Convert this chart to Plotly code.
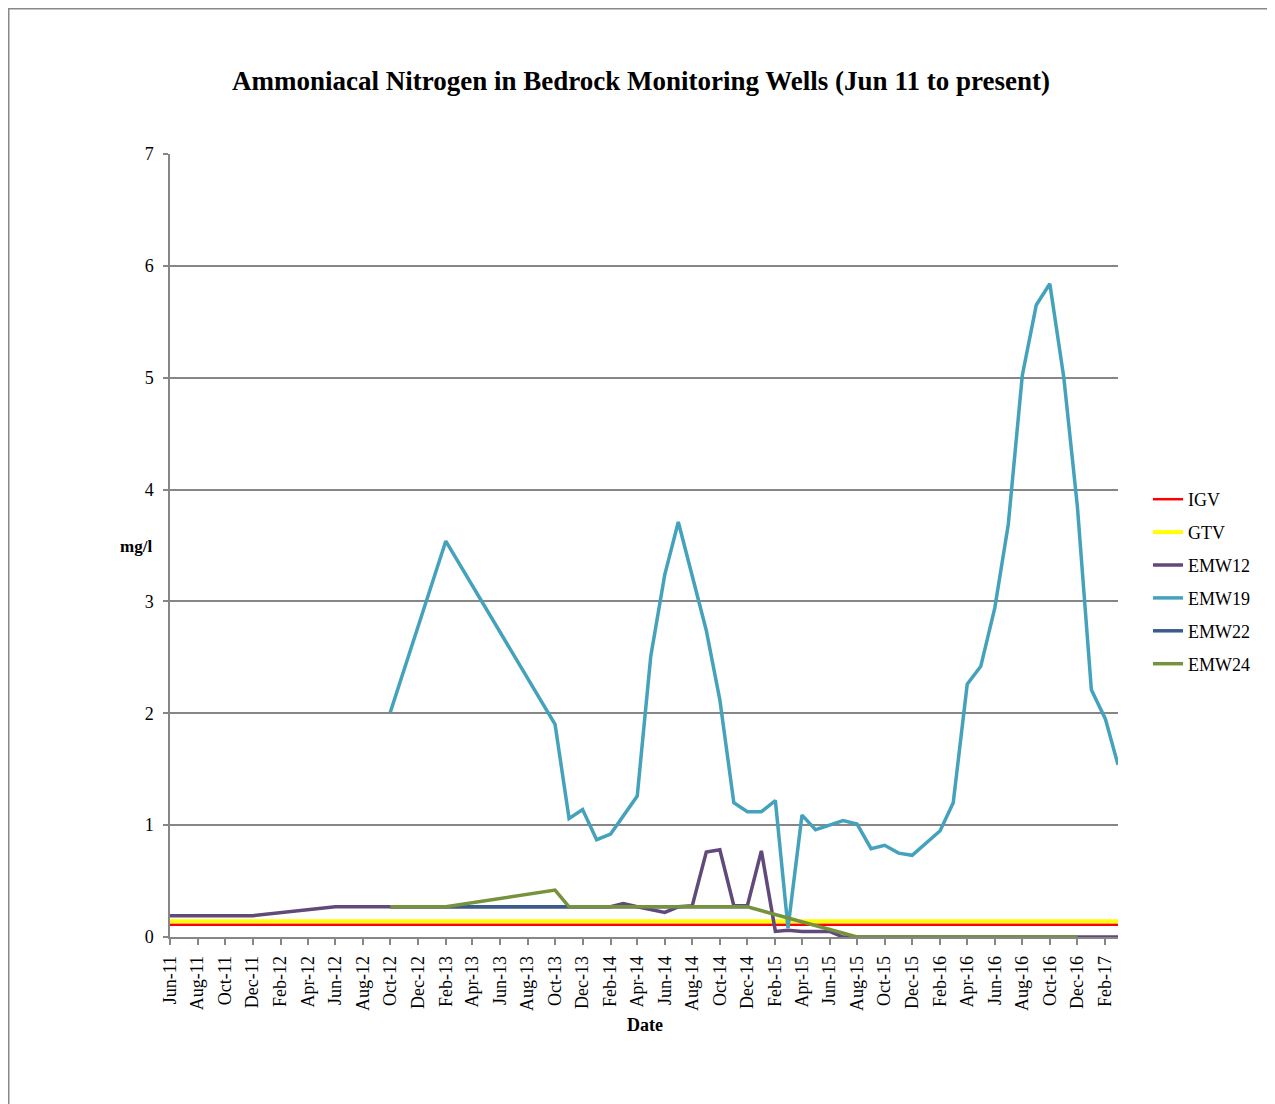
import plotly.graph_objects as go

# ---- data ----
full_range_dates = ["2011-06-01", "2017-03-01"]
igv_vals = [0.11, 0.11]
gtv_vals = [0.14, 0.14]

emw12_dates = ["2011-06-01", "2011-12-01", "2012-06-01", "2012-10-01", "2013-02-01", "2013-10-01",
               "2013-11-01", "2014-02-01", "2014-03-01", "2014-04-01", "2014-06-01", "2014-07-01",
               "2014-08-01", "2014-09-01", "2014-10-01", "2014-11-01", "2014-12-01", "2015-01-01",
               "2015-02-01", "2015-03-01", "2015-04-01", "2015-05-01", "2015-06-01", "2015-07-01",
               "2016-12-01", "2017-03-01"]
emw12_vals = [0.19, 0.19, 0.27, 0.27, 0.27, 0.27,
              0.27, 0.27, 0.30, 0.27, 0.22, 0.27,
              0.28, 0.76, 0.78, 0.28, 0.28, 0.77,
              0.05, 0.06, 0.05, 0.05, 0.05, 0.0,
              0.0, 0.0]

emw19_dates = ["2012-10-01", "2013-02-01", "2013-10-01", "2013-11-01", "2013-12-01", "2014-01-01",
               "2014-02-01", "2014-04-01", "2014-05-01", "2014-06-01", "2014-07-01", "2014-09-01",
               "2014-10-01", "2014-11-01", "2014-12-01", "2015-01-01", "2015-02-01", "2015-03-01",
               "2015-04-01", "2015-05-01", "2015-06-01", "2015-07-01", "2015-08-01", "2015-09-01",
               "2015-10-01", "2015-11-01", "2015-12-01", "2016-01-01", "2016-02-01", "2016-03-01",
               "2016-04-01", "2016-05-01", "2016-06-01", "2016-07-01", "2016-08-01", "2016-09-01",
               "2016-10-01", "2016-11-01", "2016-12-01", "2017-01-01", "2017-02-01", "2017-03-01"]
emw19_vals = [2.01, 3.54, 1.90, 1.06, 1.14, 0.87,
              0.92, 1.26, 2.51, 3.24, 3.71, 2.74,
              2.12, 1.20, 1.12, 1.12, 1.22, 0.08,
              1.09, 0.96, 1.00, 1.04, 1.01, 0.79,
              0.82, 0.75, 0.73, 0.84, 0.95, 1.20,
              2.26, 2.42, 2.94, 3.69, 5.02, 5.65,
              5.84, 5.00, 3.85, 2.21, 1.95, 1.54]

emw22_dates = ["2012-10-01", "2013-02-01", "2013-10-01", "2013-11-01", "2014-12-01"]
emw22_vals = [0.27, 0.27, 0.27, 0.27, 0.27]

emw24_dates = ["2012-10-01", "2013-02-01", "2013-10-01", "2013-11-01", "2014-12-01",
               "2015-08-01", "2016-12-01"]
emw24_vals = [0.27, 0.27, 0.42, 0.27, 0.27, 0.0, 0.0]

series = [
    ("IGV", full_range_dates, igv_vals, "#FF0000", 2.5),
    ("GTV", full_range_dates, gtv_vals, "#FFFF00", 4),
    ("EMW12", emw12_dates, emw12_vals, "#604A7B", 3.5),
    ("EMW19", emw19_dates, emw19_vals, "#44A2BC", 3.5),
    ("EMW22", emw22_dates, emw22_vals, "#385D8A", 3.5),
    ("EMW24", emw24_dates, emw24_vals, "#76923C", 3.5),
]

SERIF = "Times New Roman, Liberation Serif, serif"

# plot area in page pixels (page has an 8px body offset)
PL, PR, PT, PB = 170, 1118, 154, 937
OFF = 8
PW, PH = PR - PL, PB - PT

fig = go.Figure()
for name, xs, ys, color, w in series:
    fig.add_trace(go.Scatter(x=xs, y=ys, mode="lines", name=name, legendgroup=name,
                             line=dict(color=color, width=w)))

fig.update_layout(
    width=1275, height=1104,
    margin=dict(l=PL - OFF, r=1275 - (PR - OFF), t=PT - OFF, b=1104 - (PB - OFF)),
    paper_bgcolor="white", plot_bgcolor="white",
    font=dict(family=SERIF, color="black", size=18),
    title=dict(text="<b>Ammoniacal Nitrogen in Bedrock Monitoring Wells (Jun 11 to present)</b>",
               x=(641 - OFF) / 1275, xanchor="center", y=1 - (81 - OFF) / 1104, yanchor="middle",
               font=dict(family=SERIF, size=27, color="black")),
    showlegend=True,
    legend=dict(x=(1148 - PL) / PW, y=(PB - 481) / PH, xanchor="left", yanchor="top",
                font=dict(family=SERIF, size=18, color="black"),
                bgcolor="rgba(0,0,0,0)", tracegroupgap=6.5),
)

fig.update_xaxes(
    type="date",
    range=["2011-06-01", "2017-03-01"],
    tick0="2011-06-01", dtick="M2", tickformat="%b-%y",
    tickangle=-90,
    tickfont=dict(family=SERIF, size=18, color="black"),
    ticks="outside", ticklen=6, tickcolor="#868686", tickwidth=1.5,
    ticklabelstandoff=4,
    showline=True, linecolor="#868686", linewidth=1.5,
    showgrid=False, zeroline=False,
)
fig.update_yaxes(
    range=[0, 7], dtick=1,
    tickfont=dict(family=SERIF, size=18, color="black"),
    ticks="outside", ticklen=5, tickcolor="#868686", tickwidth=1.5,
    ticklabelstandoff=6,
    showline=True, linecolor="#868686", linewidth=1.5,
    showgrid=True, gridcolor="#868686", gridwidth=1.5,
    zeroline=False,
)

fig.add_annotation(text="<b>mg/l</b>", xref="paper", yref="paper",
                   x=(118 - PL) / PW, y=(PB - 546) / PH,
                   showarrow=False, font=dict(family=SERIF, size=17, color="black"))
fig.add_annotation(text="<b>Date</b>", xref="paper", yref="paper",
                   x=(645 - PL) / PW, y=(PB - 1025) / PH, yanchor="middle",
                   showarrow=False, font=dict(family=SERIF, size=18, color="black"))

# outer chart border (extends past the visible page at right/bottom)
fig.add_shape(type="rect", xref="paper", yref="paper",
              x0=(8.75 - PL) / PW, y0=-0.5, x1=1.3, y1=(PB - 8.75) / PH,
              line=dict(color="#888888", width=1.5), fillcolor="rgba(0,0,0,0)", layer="below")

fig.write_html("out.html")
